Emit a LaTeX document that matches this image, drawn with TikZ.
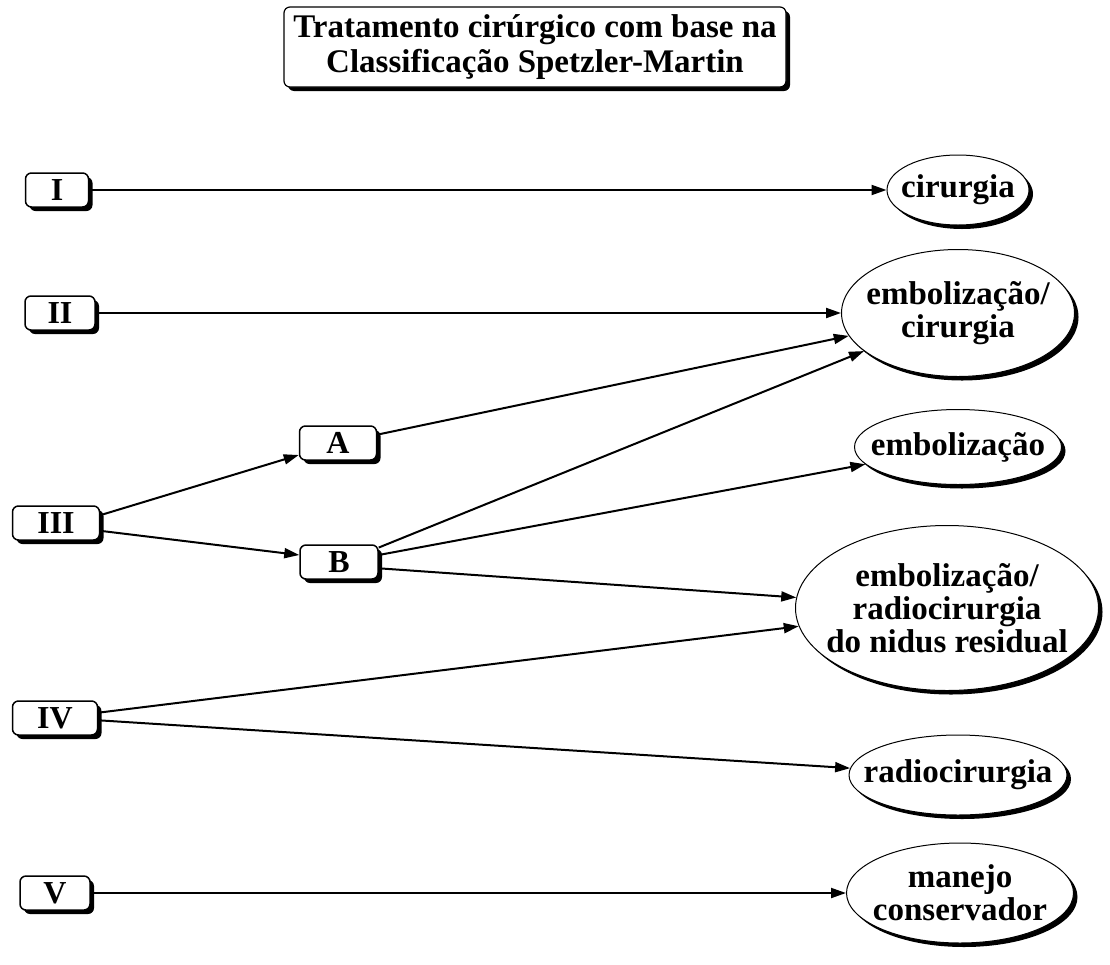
\documentclass[tikz,border=0pt]{standalone}
\usepackage{fontspec}
\setmainfont{Liberation Serif}
\usetikzlibrary{arrows.meta,shapes.geometric,shadows}

\tikzset{
  blackshadow/.style={drop shadow={shadow xshift=4pt,shadow yshift=-4pt,fill=black,opacity=1}},
  grade/.style={draw,line width=1.5pt,rounded corners=6pt,fill=white,inner sep=0pt,
    minimum height=34pt,font=\fontsize{32}{32}\selectfont\bfseries,blackshadow},
  result/.style={ellipse,draw,line width=1pt,fill=white,inner xsep=-30pt,inner ysep=-10pt,
    align=center,font=\fontsize{33}{33}\selectfont\bfseries,blackshadow},
  flow/.style={line width=2pt,-{Triangle[length=15pt,width=10pt]}}
}

\begin{document}
\begin{tikzpicture}[x=1pt,y=-1pt]
\useasboundingbox (0,0) rectangle (1110,964);

% title
\node[draw,line width=1.2pt,rounded corners=6pt,fill=white,blackshadow,inner sep=0pt,
  minimum width=502pt,minimum height=80pt,align=center,
  font=\fontsize{33}{35}\selectfont\bfseries] (title) at (535,47)
  {Tratamento cirúrgico com base na\\Classificação Spetzler-Martin};

% grades
\node[grade,minimum width=63pt] (I) at (57,190) {I};
\node[grade,minimum width=70pt] (II) at (60,313) {II};
\node[grade,minimum width=87pt] (III) at (56,523) {III};
\node[grade,minimum width=85pt] (IV) at (55,718) {IV};
\node[grade,minimum width=70pt] (V) at (55,893) {V};
\node[grade,minimum width=77pt] (A) at (338,443) {A};
\node[grade,minimum width=78pt] (B) at (339,562) {B};

% treatments
\node[result,minimum width=142pt,minimum height=70pt] (cir) at (958,190) {cirurgia};
\node[result,minimum width=233pt,minimum height=127pt] (embcir) at (958,313) {embolização/\\cirurgia};
\node[result,minimum width=207pt,minimum height=75pt] (emb) at (958,447) {embolização};
\node[result,minimum width=303pt,minimum height=165pt] (embradio) at (947,608)
  {embolização/\\radiocirurgia\\do nidus residual};
\node[result,minimum width=218pt,minimum height=80pt] (radio) at (958,775) {radiocirurgia};
\node[result,minimum width=227pt,minimum height=100pt] (manejo) at (960,893) {manejo\\conservador};

\draw[flow] (I) -- (cir);
\draw[flow] (II) -- (embcir);
\draw[flow] (III.10) -- (A.197);
\draw[flow] (III.-10) -- (B.170);
\draw[flow] (A.12) -- (embcir);
\draw[flow] (B.20) -- (embcir);
\draw[flow] (B.10) -- (emb);
\draw[flow] (B.-9) -- (embradio);
\draw[flow] (IV.7) -- (embradio);
\draw[flow] (IV.-3) -- (radio);
\draw[flow] (V) -- (manejo);

\end{tikzpicture}
\end{document}
